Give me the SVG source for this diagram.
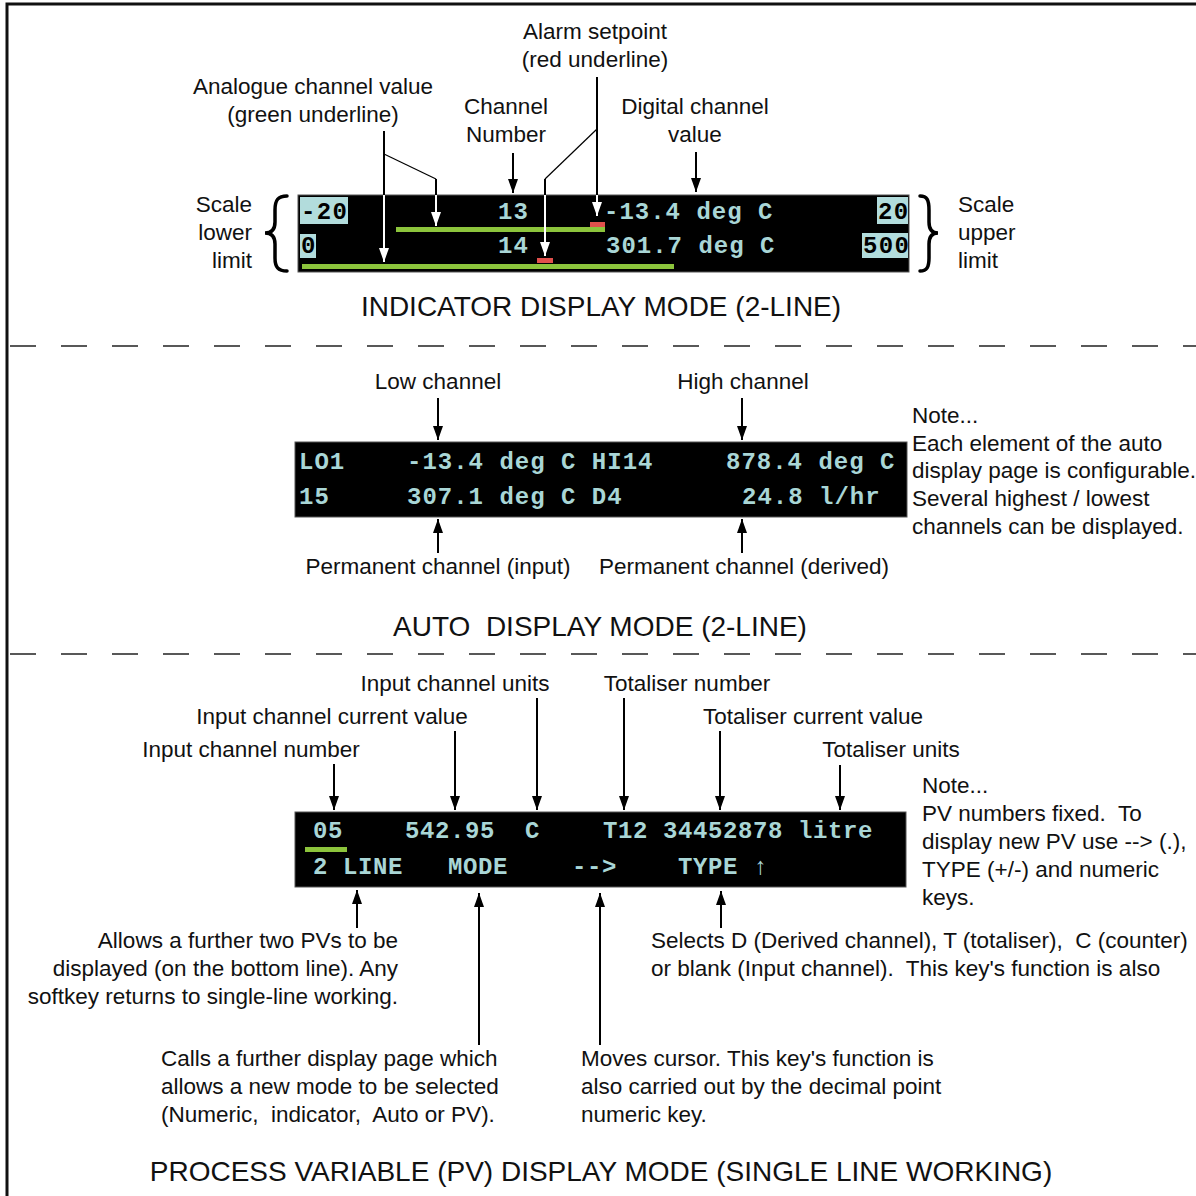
<svg xmlns="http://www.w3.org/2000/svg" width="1196" height="1196" viewBox="0 0 1196 1196">
<style>
.lbl{font-family:"Liberation Sans",Arial,sans-serif;font-size:22.5px;fill:#111}
.mid{text-anchor:middle}
.end{text-anchor:end}
.title{font-family:"Liberation Sans",Arial,sans-serif;font-size:28px;fill:#111;text-anchor:middle}
.lcd{font-family:"Liberation Mono","Courier New",monospace;font-size:24px;font-weight:bold;fill:#a9d6d6;letter-spacing:1px}
.lcdpv{font-family:"Liberation Mono","Courier New",monospace;font-size:24px;font-weight:bold;fill:#a9d6d6;letter-spacing:0.6px}
.lcdinv{font-family:"Liberation Mono","Courier New",monospace;font-size:24px;font-weight:bold;fill:#000;letter-spacing:1.4px}
.screen{fill:#000;stroke:#555;stroke-width:1}
.hl{fill:#b2dcdc}
.green{fill:#8cc43c}
.red{fill:#e0504c}
.ln{stroke:#000;stroke-width:2;fill:none}
.thin{stroke:#000;stroke-width:1.2;fill:none}
.wln{stroke:#fff;stroke-width:2;fill:none}
.dash{stroke:#222;stroke-width:1.5;stroke-dasharray:26 25;fill:none}
.brace{stroke:#000;stroke-width:3.5;fill:none;stroke-linecap:round}
</style>
<defs>
<marker id="ah" markerUnits="userSpaceOnUse" markerWidth="14" markerHeight="10" refX="14" refY="5" orient="auto">
<path d="M0,0 L14,5 L0,10 z" fill="#000"/>
</marker>
<marker id="ahw" markerUnits="userSpaceOnUse" markerWidth="14" markerHeight="10" refX="14" refY="5" orient="auto">
<path d="M0,0 L14,5 L0,10 z" fill="#fff"/>
</marker>
</defs>
<rect width="1196" height="1196" fill="#fff"/>
<path d="M7 1196 V4 H1196" stroke="#111" stroke-width="3" fill="none"/>
<line class="dash" x1="10" y1="346" x2="1196" y2="346"/>
<line class="dash" x1="10" y1="654" x2="1196" y2="654"/>

<g id="indicator-display">
<rect class="screen" x="298" y="195" width="611" height="77"/>
<rect class="hl" x="300" y="197" width="48" height="27"/>
<rect class="hl" x="300" y="234" width="16" height="24"/>
<rect class="hl" x="877" y="197" width="31" height="27"/>
<rect class="hl" x="862" y="233" width="46" height="25"/>
<text class="lcdinv" x="301" y="219">-20</text>
<text class="lcdinv" x="301" y="253">0</text>
<text class="lcdinv" x="878" y="219">20</text>
<text class="lcdinv" x="863" y="253">500</text>
<text class="lcd" x="498" y="219">13</text>
<text class="lcd" x="498" y="253">14</text>
<text class="lcd" x="604" y="219">-13.4 deg C</text>
<text class="lcd" x="606" y="253">301.7 deg C</text>
<rect class="green" x="396" y="227" width="209" height="5"/>
<rect class="green" x="302" y="264" width="372" height="5"/>
<rect class="red" x="590" y="222" width="15" height="5"/>
<rect class="red" x="537" y="258" width="16" height="5"/>
</g>
<g id="indicator-labels">
<text class="lbl mid" x="595" y="39">Alarm setpoint</text>
<text class="lbl mid" x="595" y="67">(red underline)</text>
<text class="lbl mid" x="313" y="94">Analogue channel value</text>
<text class="lbl mid" x="313" y="122">(green underline)</text>
<text class="lbl mid" x="506" y="114">Channel</text>
<text class="lbl mid" x="506" y="142">Number</text>
<text class="lbl mid" x="695" y="114">Digital channel</text>
<text class="lbl mid" x="695" y="142">value</text>
<text class="lbl end" x="252" y="212">Scale</text>
<text class="lbl end" x="252" y="240">lower</text>
<text class="lbl end" x="252" y="268">limit</text>
<text class="lbl" x="958" y="212">Scale</text>
<text class="lbl" x="958" y="240">upper</text>
<text class="lbl" x="958" y="268">limit</text>
<path class="brace" d="M287 196 C278 196 275 200 275 210 L275 222 C275 229 272 233 265 233 C272 233 275 237 275 244 L275 258 C275 267 278 271 287 271"/>
<path class="brace" d="M920 196 C927 196 929 200 929 210 L929 222 C929 229 932 233 938 233 C932 233 929 237 929 244 L929 258 C929 267 927 271 920 271"/>
<text class="title" x="601" y="316">INDICATOR DISPLAY MODE (2-LINE)</text>
</g>

<g id="auto-display">
<rect class="screen" x="295" y="442" width="612" height="75"/>
<text class="lcd" x="299" y="469">LO1</text>
<text class="lcd" x="407" y="469">-13.4 deg C HI14</text>
<text class="lcd" x="726" y="469">878.4 deg C</text>
<text class="lcd" x="299" y="504">15</text>
<text class="lcd" x="407" y="504">307.1 deg C D4</text>
<text class="lcd" x="742" y="504">24.8 l/hr</text>
</g>
<g id="auto-labels">
<text class="lbl mid" x="438" y="389">Low channel</text>
<text class="lbl mid" x="743" y="389">High channel</text>
<text class="lbl" x="912" y="423">Note...</text>
<text class="lbl" x="912" y="451">Each element of the auto</text>
<text class="lbl" x="912" y="478">display page is configurable.</text>
<text class="lbl" x="912" y="506">Several highest / lowest</text>
<text class="lbl" x="912" y="534">channels can be displayed.</text>
<text class="lbl mid" x="438" y="574">Permanent channel (input)</text>
<text class="lbl mid" x="744" y="574">Permanent channel (derived)</text>
<text class="title" x="600" y="636" xml:space="preserve">AUTO  DISPLAY MODE (2-LINE)</text>
</g>

<g id="pv-display">
<rect class="screen" x="295" y="812" width="611" height="75"/>
<text class="lcdpv" x="313" y="838">05</text>
<text class="lcdpv" x="405" y="838">542.95</text>
<text class="lcdpv" x="525" y="838">C</text>
<text class="lcdpv" x="603" y="838">T12</text>
<text class="lcdpv" x="663" y="838">34452878 litre</text>
<rect class="green" x="305" y="847" width="42" height="5"/>
<text class="lcdpv" x="313" y="874">2 LINE</text>
<text class="lcdpv" x="448" y="874">MODE</text>
<text class="lcdpv" x="572" y="874">--&gt;</text>
<text class="lcdpv" x="678" y="874">TYPE <tspan style="font-weight:normal">↑</tspan></text>
</g>
<g id="pv-labels">
<text class="lbl mid" x="455" y="691">Input channel units</text>
<text class="lbl mid" x="687" y="691">Totaliser number</text>
<text class="lbl mid" x="332" y="724">Input channel current value</text>
<text class="lbl mid" x="813" y="724">Totaliser current value</text>
<text class="lbl mid" x="251" y="757">Input channel number</text>
<text class="lbl mid" x="891" y="757">Totaliser units</text>
<text class="lbl" x="922" y="793">Note...</text>
<text class="lbl" x="922" y="821" xml:space="preserve">PV numbers fixed.  To</text>
<text class="lbl" x="922" y="849">display new PV use --&gt; (.),</text>
<text class="lbl" x="922" y="877">TYPE (+/-) and numeric</text>
<text class="lbl" x="922" y="905">keys.</text>
<text class="lbl end" x="398" y="948">Allows a further two PVs to be</text>
<text class="lbl end" x="398" y="976">displayed (on the bottom line). Any</text>
<text class="lbl end" x="398" y="1004">softkey returns to single-line working.</text>
<text class="lbl" x="651" y="948" xml:space="preserve">Selects D (Derived channel), T (totaliser),  C (counter)</text>
<text class="lbl" x="651" y="976" xml:space="preserve">or blank (Input channel).  This key's function is also</text>
<text class="lbl" x="161" y="1066">Calls a further display page which</text>
<text class="lbl" x="161" y="1094">allows a new mode to be selected</text>
<text class="lbl" x="161" y="1122" xml:space="preserve">(Numeric,  indicator,  Auto or PV).</text>
<text class="lbl" x="581" y="1066">Moves cursor. This key's function is</text>
<text class="lbl" x="581" y="1094">also carried out by the decimal point</text>
<text class="lbl" x="581" y="1122">numeric key.</text>
<text class="title" x="601" y="1181">PROCESS VARIABLE (PV) DISPLAY MODE (SINGLE LINE WORKING)</text>
</g>

<g id="connectors">
<path class="ln" d="M384 131 V195"/>
<path class="wln" d="M384 195 V262" marker-end="url(#ahw)"/>
<path class="thin" d="M384 154 L436 179"/>
<path class="ln" d="M436 179 V195"/>
<path class="wln" d="M436 195 V226" marker-end="url(#ahw)"/>
<path class="ln" d="M513 153 V193" marker-end="url(#ah)"/>
<path class="ln" d="M597 77 V195"/>
<path class="wln" d="M597 195 V216" marker-end="url(#ahw)"/>
<path class="thin" d="M597 129 L545 179"/>
<path class="ln" d="M545 179 V195"/>
<path class="wln" d="M545 195 V256" marker-end="url(#ahw)"/>
<path class="ln" d="M696 152 V192" marker-end="url(#ah)"/>
<path class="ln" d="M438 398 V440" marker-end="url(#ah)"/>
<path class="ln" d="M742 398 V440" marker-end="url(#ah)"/>
<path class="ln" d="M438 553 V519" marker-end="url(#ah)"/>
<path class="ln" d="M742 553 V519" marker-end="url(#ah)"/>
<path class="ln" d="M334 764 V810" marker-end="url(#ah)"/>
<path class="ln" d="M455 731 V810" marker-end="url(#ah)"/>
<path class="ln" d="M537 698 V810" marker-end="url(#ah)"/>
<path class="ln" d="M624 698 V810" marker-end="url(#ah)"/>
<path class="ln" d="M720 731 V810" marker-end="url(#ah)"/>
<path class="ln" d="M840 765 V810" marker-end="url(#ah)"/>
<path class="ln" d="M357 928 V890" marker-end="url(#ah)"/>
<path class="ln" d="M479 1045 V893" marker-end="url(#ah)"/>
<path class="ln" d="M600 1045 V893" marker-end="url(#ah)"/>
<path class="ln" d="M721 928 V891" marker-end="url(#ah)"/>
</g>
</svg>
